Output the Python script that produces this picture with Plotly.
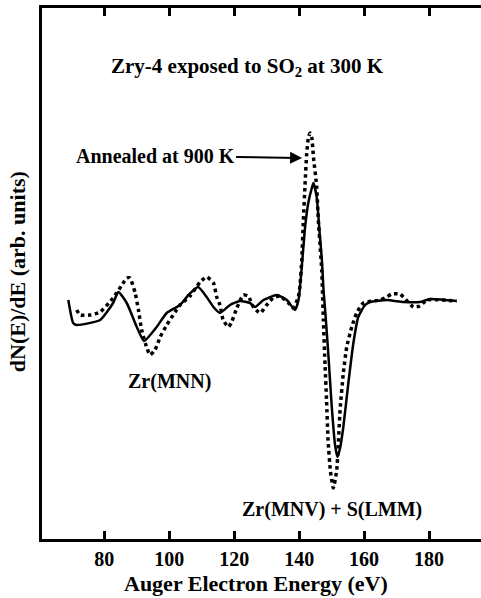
import plotly.graph_objects as go

# Energies (eV) and dN(E)/dE (arb. units)
energy_as_exposed = [68.9, 70.4, 71.5, 78.7, 82.7, 84.3, 86.9, 90.0, 92.2, 96.1, 99.2,
                     103.3, 105.9, 108.9, 111.5, 113.6, 115.6, 118.7, 121.8, 124.9, 126.4,
                     129.0, 133.1, 136.2, 138.7, 139.8, 140.8, 141.8, 142.8, 143.9, 144.4,
                     145.4, 146.4, 147.0, 147.5, 148.0, 149.0, 150.0, 151.05, 151.8, 152.6,
                     153.6, 155.15, 156.7, 158.2, 160.3, 161.8, 167.0, 172.1, 177.2, 180.3,
                     188.5]
signal_as_exposed = [0.00, -0.23, -0.25, -0.20, -0.03, 0.08, -0.03, -0.27, -0.41, -0.27, -0.13,
                     -0.05, 0.05, 0.13, 0.03, -0.07, -0.13, -0.05, -0.01, -0.03, -0.07,
                     0.00, 0.05, 0.00, -0.10, 0.00, 0.33, 0.72, 0.97, 1.12, 1.17,
                     1.03, 0.63, 0.40, 0.10, -0.10, -0.55, -1.05, -1.45, -1.57, -1.48,
                     -1.27, -0.83, -0.43, -0.17, -0.05, -0.02, 0.00, -0.02, -0.02, 0.01,
                     -0.01]

energy_annealed = [71.5, 72.5, 75.6, 78.7, 82.7, 85.4, 86.9, 87.9, 89.5, 90.5, 91.5, 93.1,
                   94.1, 95.6, 97.2, 99.2, 101.8, 103.3, 106.4, 109.5, 111.5, 113.6, 114.6,
                   115.6, 116.6, 118.2, 119.2, 120.8, 122.8, 124.3, 125.9, 128.0, 130.0,
                   132.0, 134.1, 136.7, 138.2, 139.75, 140.27, 140.8, 141.3, 141.8, 142.33,
                   142.83, 143.35, 143.9, 144.4, 145.4, 145.9, 146.95, 147.45, 147.97,
                   148.43, 148.9, 149.66, 150.53, 151.57, 152.6, 153.6, 154.65, 156.2,
                   157.7, 159.8, 164.9, 167.0, 168.5, 171.1, 172.1, 175.2, 177.2, 179.3,
                   188.5]
signal_annealed = [-0.10, -0.15, -0.15, -0.12, 0.02, 0.15, 0.22, 0.22, 0.07, -0.10, -0.30, -0.48,
                   -0.55, -0.50, -0.37, -0.25, -0.12, -0.05, 0.04, 0.18, 0.23, 0.17, 0.03,
                   -0.05, -0.20, -0.27, -0.22, -0.08, 0.05, 0.04, -0.07, -0.13, -0.05,
                   0.02, 0.04, -0.03, -0.08, 0.03, 0.15, 0.40, 0.80, 1.15, 1.47,
                   1.62, 1.67, 1.62, 1.43, 1.13, 0.80, 0.30, -0.20, -0.65,
                   -1.00, -1.40, -1.72, -1.88, -1.70, -1.10, -0.73, -0.47, -0.27,
                   -0.13, -0.03, 0.00, 0.03, 0.06, 0.06, 0.03, -0.07, -0.06, 0.00,
                   -0.01]

tick_values = [80, 100, 120, 140, 160, 180]
tick_labels = ["80", "100", "120", "140", "160", "180"]

FONT = "Liberation Serif"


def bold(size):
    return dict(family=FONT, size=size, weight="bold", color="black")


fig = go.Figure()
fig.add_trace(go.Scatter(x=energy_as_exposed, y=signal_as_exposed, mode="lines",
                         line=dict(color="black", width=2.5, shape="spline", smoothing=0.5),
                         showlegend=False, hoverinfo="skip"))
fig.add_trace(go.Scatter(x=energy_annealed, y=signal_annealed, mode="lines",
                         line=dict(color="black", width=3.5, dash="dot",
                                   shape="spline", smoothing=0.5),
                         showlegend=False, hoverinfo="skip"))

fig.update_layout(
    width=481, height=598,
    margin=dict(l=42, r=0, t=8, b=59),
    paper_bgcolor="white", plot_bgcolor="white",
    xaxis=dict(range=[60.8, 196.0], tickvals=tick_values, ticktext=tick_labels,
               ticks="inside", ticklen=8, tickwidth=3, tickcolor="black",
               showline=True, linewidth=3, linecolor="black", mirror="ticks",
               showgrid=False, zeroline=False, tickfont=bold(20)),
    yaxis=dict(range=[-2.39, 2.92], showticklabels=False, ticks="",
               showline=True, linewidth=3, linecolor="black", mirror=False,
               showgrid=False, zeroline=False),
    annotations=[
        dict(x=0.5, y=-0.083, xref="paper", yref="paper", showarrow=False,
             xanchor="center", yanchor="middle", xshift=-6,
             text="Auger Electron Energy (eV)", font=bold(22)),
        dict(x=-0.054, y=0.503, xref="paper", yref="paper", showarrow=False,
             xanchor="center", yanchor="middle", textangle=-90,
             text="dN(E)/dE (arb. units)", font=bold(22)),
        dict(x=123.95, y=2.33, xref="x", yref="y", showarrow=False,
             text="Zry-4 exposed to SO<sub>2</sub> at 300 K", font=bold(21)),
        dict(x=140.9, y=1.42, xref="x", yref="y", text="Annealed at 900 K",
             showarrow=True, ax=-147, ay=-2, axref="pixel", ayref="pixel",
             arrowhead=2, arrowsize=1.2, arrowwidth=2, arrowcolor="black", font=bold(20)),
        dict(x=100.2, y=-0.81, xref="x", yref="y", showarrow=False, text="Zr(MNN)",
             font=bold(20)),
        dict(x=150.0, y=-2.09, xref="x", yref="y", showarrow=False,
             text="Zr(MNV) + S(LMM)", font=bold(20)),
    ],
)

fig.write_html("out.html")
